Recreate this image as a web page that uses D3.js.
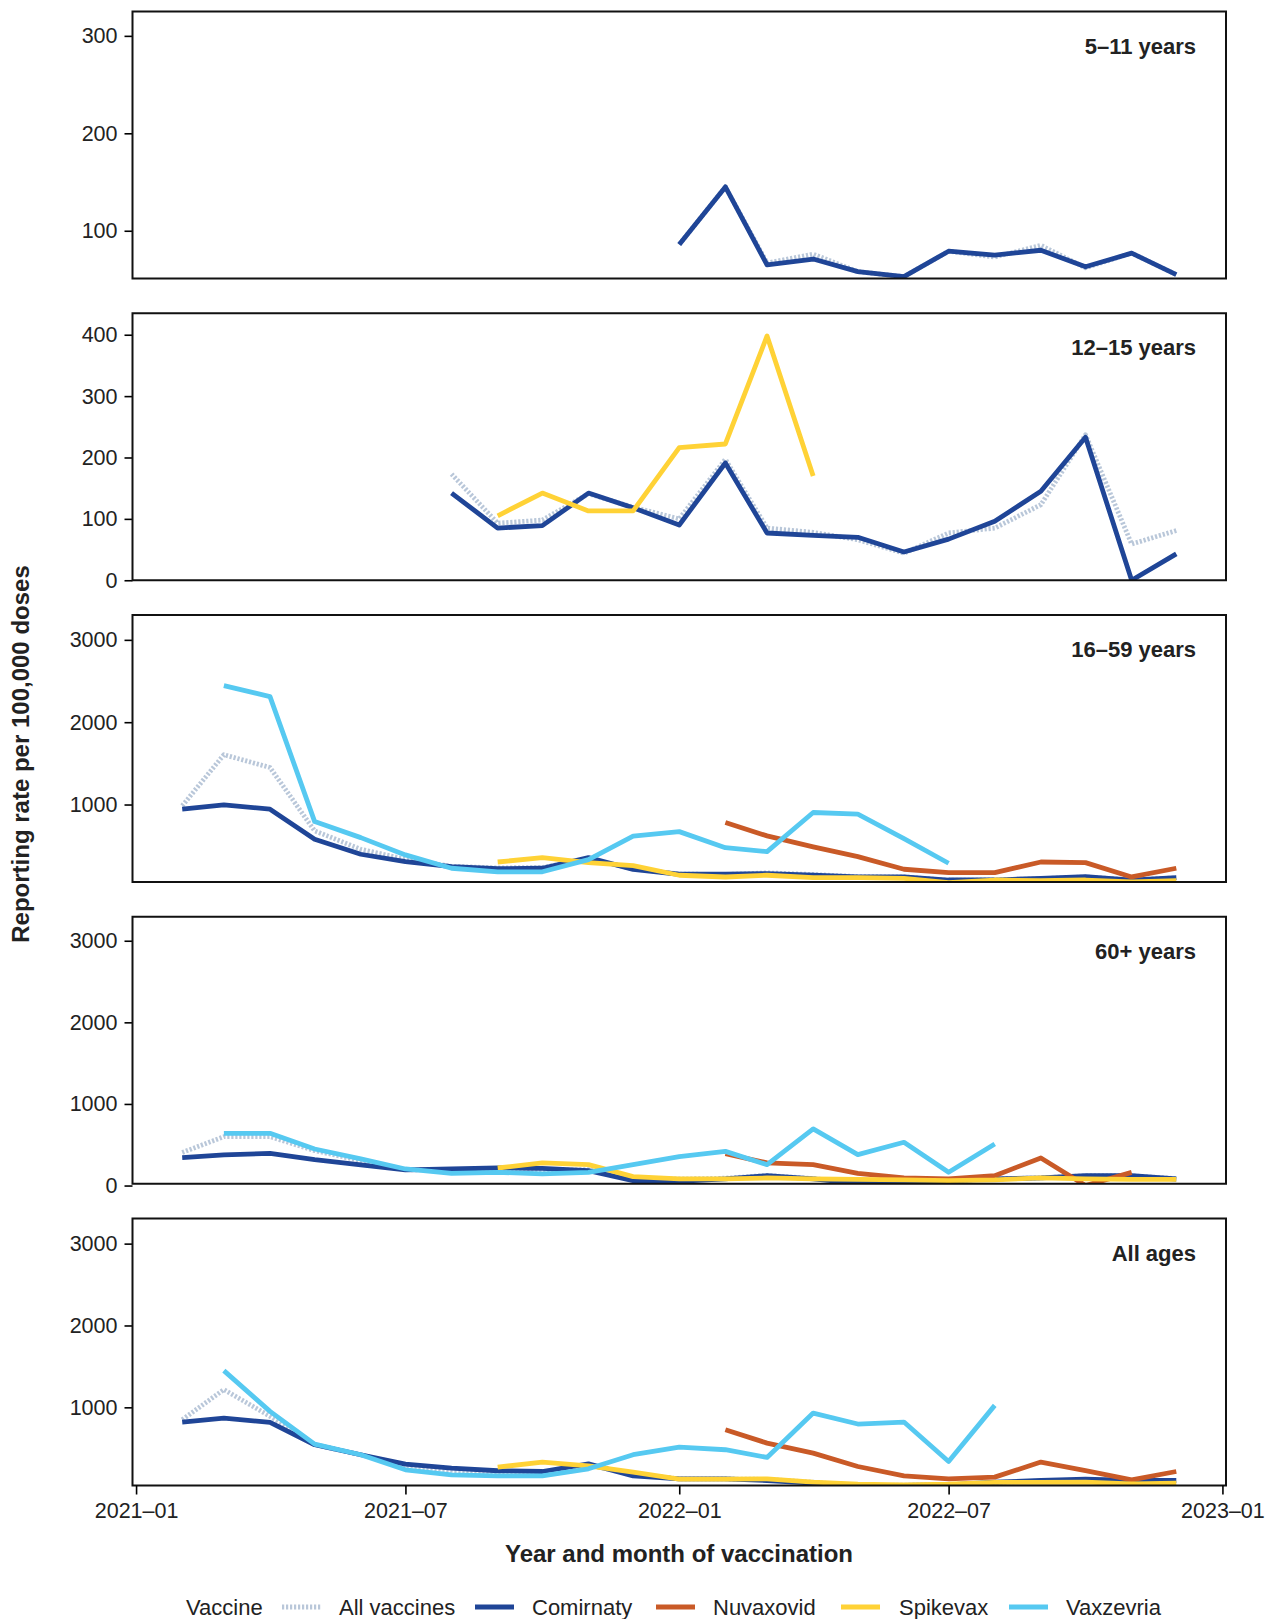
<!DOCTYPE html>
<html>
<head>
<meta charset="utf-8">
<script src="https://cdn.jsdelivr.net/npm/d3@7"></script>
<style>
  html, body { margin: 0; padding: 0; background: #fff; }
  svg { display: block; font-family: "Liberation Sans", Arial, Helvetica, sans-serif; }
</style>
</head>
<body>
<svg id="chart" width="1272" height="1619"></svg>
<script>
// ---------- DATA ----------
const months = ["2021-02","2021-03","2021-04","2021-05","2021-06","2021-07","2021-08","2021-09","2021-10","2021-11","2021-12",
                "2022-01","2022-02","2022-03","2022-04","2022-05","2022-06","2022-07","2022-08","2022-09","2022-10","2022-11","2022-12"];
const vaccines = ["All vaccines","Comirnaty","Nuvaxovid","Spikevax","Vaxzevria"];
const panels = ["5–11 years","12–15 years","16–59 years","60+ years","All ages"];
const xTickLabels = ["2021–01","2021–07","2022–01","2022–07","2023–01"];
const xTickDates = ["2021-01","2021-07","2022-01","2022-07","2023-01"];

const yTicks_5_11 = [100,200,300];
const yTicks_12_15 = [0,100,200,300,400];
const yTicks_16_59 = [1000,2000,3000];
const yTicks_60 = [0,1000,2000,3000];
const yTicks_all = [1000,2000,3000];

const yDomain_5_11 = [51, 325];
const yDomain_12_15 = [0, 435];
const yDomain_16_59 = [59, 3302];
const yDomain_60 = [22, 3294];
const yDomain_all = [45, 3307];

const N = null;
// 5–11 years
const all_5_11  = [N,N,N,N,N,N,N,N,N,N,N, 86,145,67,76,58,53,79,73,85,62,77,55];
const com_5_11  = [N,N,N,N,N,N,N,N,N,N,N, 86,145,65,71,58,53,79,75,80,63,77,55];
// 12–15 years
const all_12_15 = [N,N,N,N,N,N, 173,93,98,141,119,100,197,85,78,66,44,77,85,123,237,59,81];
const com_12_15 = [N,N,N,N,N,N, 142,85,89,142,118,90,191,77,73,70,46,67,96,145,233,0,43];
const spi_12_15 = [N,N,N,N,N,N,N, 105,142,113,113,216,222,398,170, N,N,N,N,N,N,N,N];
// 16–59 years
const all_16_59 = [984,1605,1450,680,457,335,250,230,235,340,220,155,150,170,150,125,120,80,85,100,120,85,110];
const com_16_59 = [944,996,944,579,396,306,245,221,226,355,213,153,153,160,141,120,120,83,83,104,124,83,111];
const nuv_16_59 = [N,N,N,N,N,N,N,N,N,N,N,N, 781,619,485,367,214,172,172,302,294,120,226];
const spi_16_59 = [N,N,N,N,N,N,N, 302,355,294,258,141,120,141,111,111,104,50,83,75,83,59,75];
const vax_16_59 = [N, 2445,2311,793,598,388,226,181,183,330,615,671,476,428,903,883,586,287, N,N,N,N,N];
// 60+ years
const all_60 = [405,599,599,428,305,195,185,190,185,195,85,80,90,125,85,35,45,60,80,95,120,120,85];
const com_60 = [342,375,395,317,252,191,203,215,211,183,60,52,81,121,81,27,39,60,81,93,120,120,80];
const nuv_60 = [N,N,N,N,N,N,N,N,N,N,N,N, 390,277,256,150,93,81,121,338,0,162, N];
const spi_60 = [N,N,N,N,N,N,N, 215,277,256,109,81,81,93,81,75,70,60,70,93,81,75,75];
const vax_60 = [N, 640,640,448,326,203,150,162,142,162,256,354,419,256,694,379,530,162,510, N,N,N,N];
// All ages
const all_all = [849,1217,890,545,420,290,230,200,195,290,190,125,125,120,85,40,50,55,80,100,115,100,100];
const com_all = [820,869,816,543,421,306,257,225,216,310,163,127,127,106,73,20,45,53,85,106,122,106,106];
const nuv_all = [N,N,N,N,N,N,N,N,N,N,N,N, 727,563,440,277,163,127,147,331,228,114,216];
const spi_all = [N,N,N,N,N,N,N, 269,331,286,208,122,122,127,85,61,53,61,82,82,85,65,73];
const vax_all = [N, 1449,951,551,421,237,176,163,163,249,421,514,482,388,930,796,820,339,1024, N,N,N,N];

// ---------- BUILD ----------
const parseM = d3.timeParse("%Y-%m");
const dates = months.map(parseM);

const panelDefs = [
  {label: panels[0], domain: yDomain_5_11, ticks: yTicks_5_11, series: {"All vaccines": all_5_11, "Comirnaty": com_5_11}},
  {label: panels[1], domain: yDomain_12_15, ticks: yTicks_12_15, series: {"All vaccines": all_12_15, "Comirnaty": com_12_15, "Spikevax": spi_12_15}},
  {label: panels[2], domain: yDomain_16_59, ticks: yTicks_16_59, series: {"All vaccines": all_16_59, "Comirnaty": com_16_59, "Nuvaxovid": nuv_16_59, "Spikevax": spi_16_59, "Vaxzevria": vax_16_59}},
  {label: panels[3], domain: yDomain_60, ticks: yTicks_60, series: {"All vaccines": all_60, "Comirnaty": com_60, "Nuvaxovid": nuv_60, "Spikevax": spi_60, "Vaxzevria": vax_60}},
  {label: panels[4], domain: yDomain_all, ticks: yTicks_all, series: {"All vaccines": all_all, "Comirnaty": com_all, "Nuvaxovid": nuv_all, "Spikevax": spi_all, "Vaxzevria": vax_all}}
];

const colors = {
  "All vaccines": "#B9C7D9",
  "Comirnaty": "#1F4597",
  "Nuvaxovid": "#C95A27",
  "Spikevax": "#FFD236",
  "Vaxzevria": "#56C9F1"
};

const svg = d3.select("#chart");
const left = 132.5, right = 1226;
const panelTop0 = 11.5, panelStep = 301.75, panelH = 267;

const x0 = dates[0], x1 = dates[dates.length - 1];
const span = x1 - x0;
const x = d3.scaleTime()
  .domain([new Date(+x0 - 0.05 * span), new Date(+x1 + 0.05 * span)])
  .range([left, right]);

const textColor = "#222";
const font = "\"Liberation Sans\", Arial, Helvetica, sans-serif";
const tickFont = "21.5px";
const lw = 4.8;

panelDefs.forEach((p, pi) => {
  const top = panelTop0 + pi * panelStep;
  const bottom = top + panelH;
  const y = d3.scaleLinear().domain(p.domain).range([bottom, top]);
  const g = svg.append("g");

  const clipId = "clip" + pi;
  svg.append("clipPath").attr("id", clipId)
    .append("rect").attr("x", left).attr("y", top).attr("width", right - left).attr("height", panelH);

  const lg = g.append("g").attr("clip-path", `url(#${clipId})`);
  vaccines.forEach(v => {
    const vals = p.series[v];
    if (!vals) return;
    const pts = vals.map((val, i) => ({d: dates[i], v: val}));
    const line = d3.line()
      .defined(d => d.v !== null)
      .x(d => x(d.d))
      .y(d => y(d.v));
    const path = lg.append("path")
      .attr("d", line(pts))
      .attr("fill", "none")
      .attr("stroke", colors[v])
      .attr("stroke-width", lw)
      .attr("stroke-linejoin", "round")
      .attr("stroke-linecap", "butt");
    if (v === "All vaccines") path.attr("stroke-dasharray", "2.2,1.8");
  });

  // y axis
  const yAxis = d3.axisLeft(y).tickValues(p.ticks).tickFormat(d3.format("d"))
    .tickSize(8).tickPadding(7).tickSizeOuter(0);
  const ya = g.append("g").attr("transform", `translate(${left},0)`).call(yAxis);
  ya.select(".domain").remove();
  ya.selectAll(".tick line").attr("stroke", "#000").attr("stroke-width", 1.6);
  ya.selectAll(".tick text").attr("fill", textColor).style("font-size", tickFont).style("font-family", font);

  // panel border
  g.append("rect").attr("x", left).attr("y", top).attr("width", right - left).attr("height", panelH)
    .attr("fill", "none").attr("stroke", "#111").attr("stroke-width", 2);

  // facet label
  g.append("text").attr("x", 1196).attr("y", top + 42)
    .attr("text-anchor", "end").attr("fill", textColor)
    .style("font-size", "22px").style("font-weight", "bold").style("font-family", font)
    .text(p.label);

  if (pi === panelDefs.length - 1) {
    const xAxis = d3.axisBottom(x)
      .tickValues(xTickDates.map(parseM))
      .tickFormat((d, i) => xTickLabels[i])
      .tickSize(9).tickPadding(8).tickSizeOuter(0);
    const xa = g.append("g").attr("transform", `translate(0,${bottom})`).call(xAxis);
    xa.select(".domain").remove();
    xa.selectAll(".tick line").attr("stroke", "#000").attr("stroke-width", 1.6);
    xa.selectAll(".tick text").attr("fill", textColor).style("font-size", tickFont).style("font-family", font);
  }
});

// axis titles
svg.append("text").attr("x", 679).attr("y", 1562)
  .attr("text-anchor", "middle").attr("fill", textColor)
  .style("font-size", "24px").style("font-weight", "bold").style("font-family", font)
  .text("Year and month of vaccination");

svg.append("text").attr("transform", "translate(29,754) rotate(-90)")
  .attr("text-anchor", "middle").attr("fill", textColor)
  .style("font-size", "24px").style("font-weight", "bold").style("font-family", font)
  .text("Reporting rate per 100,000 doses");

// legend
const legY = 1607;
const leg = svg.append("g");
leg.append("text").attr("x", 186).attr("y", legY + 8).attr("fill", textColor)
  .style("font-size", "22px").style("font-family", font).text("Vaccine");
const legItems = [
  {v: "All vaccines", kx: 282, tx: 339},
  {v: "Comirnaty", kx: 475, tx: 532},
  {v: "Nuvaxovid", kx: 656, tx: 713},
  {v: "Spikevax", kx: 841, tx: 899},
  {v: "Vaxzevria", kx: 1009, tx: 1066}
];
legItems.forEach(it => {
  const l = leg.append("line").attr("x1", it.kx).attr("x2", it.kx + 39)
    .attr("y1", legY).attr("y2", legY)
    .attr("stroke", colors[it.v]).attr("stroke-width", lw);
  if (it.v === "All vaccines") l.attr("stroke-dasharray", "2.2,1.8");
  leg.append("text").attr("x", it.tx).attr("y", legY + 8).attr("fill", textColor)
    .style("font-size", "22px").style("font-family", font).text(it.v);
});
</script>
</body>
</html>
